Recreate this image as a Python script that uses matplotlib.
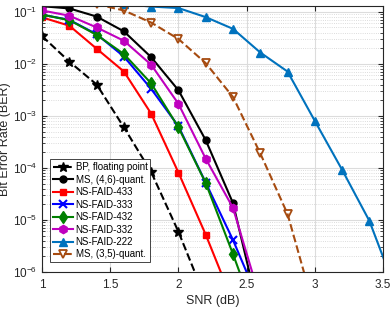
import numpy as np
import matplotlib
matplotlib.use('Agg')
import matplotlib.pyplot as plt
from matplotlib.ticker import LogLocator, NullFormatter

plt.rcParams['font.family'] = ['Liberation Sans', 'DejaVu Sans']
plt.rcParams['mathtext.fontset'] = 'custom'
plt.rcParams['mathtext.rm'] = 'Liberation Sans'

# SNR (dB) and BER curves
snr_bp = [1.0, 1.2, 1.4, 1.6, 1.8, 2.0, 2.2]
ber_bp = [3.4e-2, 1.1e-2, 4.0e-3, 6.0e-4, 8.3e-5, 5.9e-6, 3.0e-7]

snr_ms46 = [1.0, 1.2, 1.4, 1.6, 1.8, 2.0, 2.2, 2.4, 2.6]
ber_ms46 = [0.128, 0.116, 0.081, 0.042, 1.34e-2, 3.1e-3, 3.4e-4, 2.1e-5, 1.3e-7]

snr_433 = [1.0, 1.2, 1.4, 1.6, 1.8, 2.0, 2.2, 2.4]
ber_433 = [0.078, 0.054, 1.95e-2, 7.1e-3, 1.1e-3, 8.1e-5, 5.2e-6, 2.6e-7]

snr_333 = [1.0, 1.2, 1.4, 1.6, 1.8, 2.0, 2.2, 2.4, 2.6]
ber_333 = [0.088, 0.070, 0.037, 1.38e-2, 3.3e-3, 6.3e-4, 5.2e-5, 4.1e-6, 2.4e-7]

snr_432 = [1.0, 1.2, 1.4, 1.6, 1.8, 2.0, 2.2, 2.4, 2.6]
ber_432 = [0.088, 0.069, 0.036, 1.54e-2, 4.2e-3, 6.0e-4, 5.1e-5, 2.2e-6, 8e-8]

snr_332 = [1.0, 1.2, 1.4, 1.6, 1.8, 2.0, 2.2, 2.4, 2.6]
ber_332 = [0.106, 0.084, 0.050, 0.0277, 9.6e-3, 1.7e-3, 1.5e-4, 1.7e-5, 3e-7]

snr_222 = [1.6, 1.8, 2.0, 2.2, 2.4, 2.6, 2.8, 3.0, 3.2, 3.4, 3.6]
ber_222 = [0.14, 0.126, 0.118, 0.079, 0.047, 1.65e-2, 7.1e-3, 8.0e-4, 9.2e-5, 9.6e-6, 4e-7]

snr_ms35 = [1.4, 1.6, 1.8, 2.0, 2.2, 2.4, 2.6, 2.8, 3.0]
ber_ms35 = [0.14, 0.106, 0.062, 0.030, 1.03e-2, 2.3e-3, 1.9e-4, 1.3e-5, 1.8e-7]

xtick_vals = [1, 1.5, 2, 2.5, 3, 3.5]
xtick_labels = ['1', '1.5', '2', '2.5', '3', '3.5']

brown = '#A64B10'
lightblue = '#0072BD'

fig = plt.figure(figsize=(3.9, 3.09), dpi=100)
ax = fig.add_axes([0.108, 0.12, 0.874, 0.861])

ax.plot(snr_bp, ber_bp, '--', color='k', marker='*', ms=7, lw=1.5, label='BP, floating point')
ax.plot(snr_ms46, ber_ms46, '-', color='k', marker='o', ms=5, lw=1.5, label='MS, (4,6)-quant.')
ax.plot(snr_433, ber_433, '-', color='r', marker='s', ms=5, lw=1.5, label='NS-FAID-433')
ax.plot(snr_333, ber_333, '-', color='b', marker='x', ms=6, mew=1.5, lw=1.5, label='NS-FAID-333')
ax.plot(snr_432, ber_432, '-', color='#008000', marker='d', ms=6, lw=1.5, label='NS-FAID-432')
ax.plot(snr_332, ber_332, '-', color='m', marker='h', ms=6, lw=1.5, label='NS-FAID-332')
ax.plot(snr_222, ber_222, '-', color=lightblue, marker='^', ms=6, lw=1.5, label='NS-FAID-222')
ax.plot(snr_ms35, ber_ms35, '--', color=brown, marker='v', ms=6, mfc='none', mew=1.3,
        lw=1.5, label='MS, (3,5)-quant.')

ax.set_yscale('log')
ax.set_xlim(1, 3.5)
ax.set_ylim(1e-6, 0.13)
ax.set_xticks(xtick_vals)
ax.set_xticklabels(xtick_labels)
ax.yaxis.set_major_locator(LogLocator(base=10, numticks=10))
ax.yaxis.set_minor_locator(LogLocator(base=10, subs=np.arange(2, 10), numticks=20))
ax.yaxis.set_minor_formatter(NullFormatter())

ax.grid(True, which='major', color='#dcdcdc', lw=0.8, ls='-')
ax.grid(True, which='minor', axis='y', color='#d0d0d0', lw=0.6, ls=':')
ax.set_axisbelow(True)
ax.tick_params(which='both', direction='in', top=True, right=True, labelsize=8.5, colors='#262626')
ax.tick_params(which='major', length=3.5)
ax.tick_params(axis='x', which='major', pad=5)
ax.tick_params(which='minor', length=2)
for sp in ax.spines.values():
    sp.set_color('#262626')
    sp.set_linewidth(0.8)

ax.set_xlabel('SNR (dB)', fontsize=9, color='#262626', labelpad=3)
ax.set_ylabel('Bit Error Rate (BER)', fontsize=9, color='#262626', labelpad=1)

leg = ax.legend(loc='lower left', bbox_to_anchor=(0.024, 0.036), fontsize=7, handlelength=2.0,
                handletextpad=0.3, borderpad=0.3, labelspacing=0.25, fancybox=False,
                framealpha=1, edgecolor='#262626', borderaxespad=0)
leg.get_frame().set_linewidth(0.6)

fig.savefig('out.png', dpi=100)
